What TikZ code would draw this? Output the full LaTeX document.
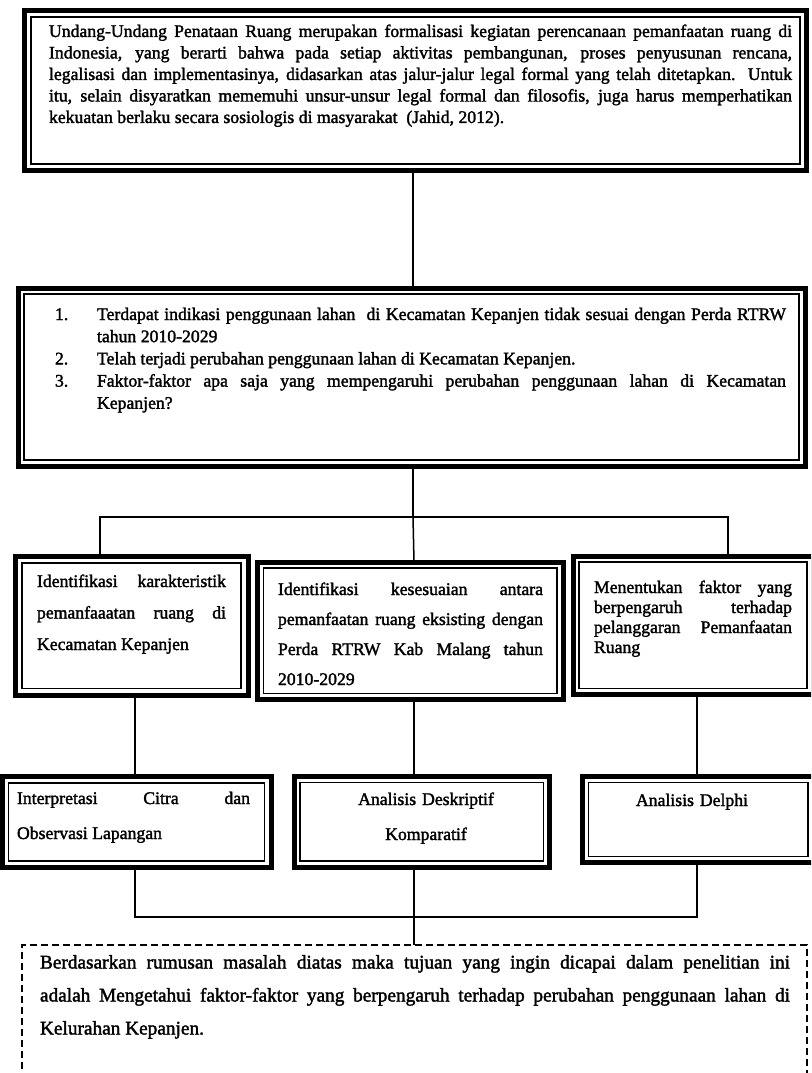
\documentclass[tikz,border=0pt]{standalone}
\usepackage{fontspec}
\newfontfamily\scanfont{Liberation Serif}[FakeBold=1.8]
% body text: size, baseline skip, no hyphenation
\newcommand\diagfont[2]{\scanfont\fontsize{#1}{#2}\selectfont
  \hyphenpenalty=10000 \exhyphenpenalty=10000 \tolerance=10000 }
\tikzset{
  frame/.style={draw, line width=5pt, inner sep=0pt, outer sep=0pt, anchor=north west},
  innerline/.style={line width=1.3pt},
  link/.style={line width=1.5pt},
  goalbox/.style={draw, line width=1.8pt, dash pattern=on 7pt off 4pt,
    inner sep=0pt, outer sep=0pt, anchor=north west},
  txt/.style={inner sep=0pt, outer sep=0pt, anchor=base west, align=justify},
}
\begin{document}
\begin{tikzpicture}[x=1pt,y=1pt]
\useasboundingbox (0,0) rectangle (811,-1073);
\clip (0,0) rectangle (811,-1073);

% framed boxes (thick outer line)
\node[frame, minimum width=782pt, minimum height=160pt]   (top)  at (24.5,-10.5) {};
\node[frame, minimum width=787pt, minimum height=178pt]   (prob) at (18,-288) {};
\node[frame, minimum width=233pt, minimum height=139.5pt] (a1)   at (15,-556) {};
\node[frame, minimum width=305.5pt, minimum height=137.5pt] (a2) at (257.5,-562) {};
\node[frame, minimum width=240pt, minimum height=138.5pt] (a3)   at (573,-556) {};
\node[frame, minimum width=269pt, minimum height=91pt]    (b1)   at (2,-776.5) {};
\node[frame, minimum width=255.5pt, minimum height=90.5pt] (b2)  at (294,-776.5) {};
\node[frame, minimum width=231.5pt, minimum height=86pt]  (b3)   at (582.5,-776.5) {};

% thin inner line of each frame
\foreach \n/\d in {top/6.5,prob/6,a1/7,a2/6,a3/6,b1/6.5,b2/6,b3/6}
  \draw[innerline] ([shift={(\d,-\d)}]\n.north west) rectangle ([shift={(-\d,\d)}]\n.south east);

% dashed goal box, running past the lower edge
\node[goalbox, minimum width=785pt, minimum height=150pt] (goal) at (22,-945) {};

% junctions
\coordinate (j1)  at (413,-517);
\coordinate (j1l) at (100,-517);
\coordinate (j1r) at (728,-517);
\coordinate (j2)  at (414,-917);
\coordinate (j2l) at (135,-917);
\coordinate (j2r) at (697,-917);

% connectors
\draw[link] (top.south -| j1) -- (prob.north -| j1);
\draw[link] (prob.south -| j1) -- (j1);
\draw[link] (a1.north -| j1l) -- (j1l) -- (j1r) -- (a3.north -| j1r);
\draw[link] (j1) -- (a2.north -| j2);
\draw[link] (a1.south -| j2l) -- (b1.north -| j2l);
\draw[link] (a2.south -| j2) -- (b2.north -| j2);
\draw[link] (a3.south -| j2r) -- (b3.north -| j2r);
\draw[link] (b1.south -| j2l) -- (j2l) -- (j2r) -- (b3.south -| j2r);
\draw[link] (b2.south -| j2) -- (goal.north -| j2);

% texts
\node[txt, text width=743pt, font=\diagfont{17.7}{21.5}] (toptext) at (49,-37)
 {Undang-Undang Penataan Ruang merupakan formalisasi kegiatan perencanaan pemanfaatan ruang di\linebreak
  Indonesia, yang berarti bahwa pada setiap aktivitas pembangunan, proses penyusunan rencana,\linebreak
  legalisasi dan implementasinya, didasarkan atas jalur-jalur legal formal yang telah ditetapkan. Untuk\linebreak
  itu, selain disyaratkan mememuhi unsur-unsur legal formal dan filosofis, juga harus memperhatikan\linebreak
  kekuatan berlaku secara sosiologis di masyarakat\ \ (Jahid, 2012).};

\node[txt, text width=731pt, font=\diagfont{17.7}{22.2}] (probtext) at (55,-320)
 {\hangindent=42pt \hangafter=1 \makebox[42pt][l]{1.}Terdapat indikasi penggunaan lahan\ \ di Kecamatan Kepanjen tidak sesuai dengan Perda RTRW\linebreak tahun 2010-2029\par
  \hangindent=42pt \hangafter=1 \makebox[42pt][l]{2.}Telah terjadi perubahan penggunaan lahan di Kecamatan Kepanjen.\par
  \hangindent=42pt \hangafter=1 \makebox[42pt][l]{3.}Faktor-faktor apa saja yang mempengaruhi perubahan penggunaan lahan di Kecamatan\linebreak Kepanjen?\par};

\node[txt, text width=189pt, font=\diagfont{17.7}{31.5}] (a1text) at (37,-587)
 {Identifikasi karakteristik\linebreak pemanfaaatan ruang di\linebreak Kecamatan Kepanjen};
\node[txt, text width=265pt, font=\diagfont{17.7}{30}] (a2text) at (278,-595)
 {Identifikasi kesesuaian antara\linebreak pemanfaatan ruang eksisting dengan\linebreak Perda RTRW Kab Malang tahun\linebreak 2010-2029};
\node[txt, text width=198pt, font=\diagfont{17.7}{20}] (a3text) at (594,-593)
 {Menentukan faktor yang\linebreak berpengaruh terhadap\linebreak pelanggaran Pemanfaatan\linebreak Ruang};

\node[txt, text width=233pt, font=\diagfont{17.7}{35}] (b1text) at (17,-804)
 {Interpretasi Citra dan\linebreak Observasi Lapangan};
\node[txt, anchor=base, align=center, text width=200pt, font=\diagfont{17.7}{35}] (b2text) at (426,-805)
 {Analisis Deskriptif\\Komparatif};
\node[txt, anchor=base, align=center, text width=200pt, font=\diagfont{17.7}{35}] (b3text) at (692,-806)
 {Analisis Delphi};

\node[txt, text width=750pt, font=\diagfont{19.3}{33}] (goaltext) at (40,-968.5)
 {Berdasarkan rumusan masalah diatas maka tujuan yang ingin dicapai dalam penelitian ini\linebreak
  adalah Mengetahui faktor-faktor yang berpengaruh terhadap perubahan penggunaan lahan di\linebreak
  Kelurahan Kepanjen.};
\end{tikzpicture}
\end{document}
